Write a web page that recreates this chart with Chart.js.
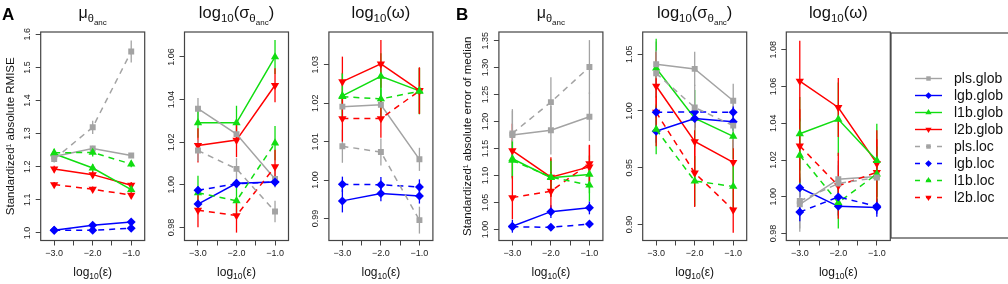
<!DOCTYPE html>
<html>
<head>
<meta charset="utf-8">
<script src="https://cdn.jsdelivr.net/npm/chart.js@4.4.1/dist/chart.umd.min.js"></script>
<style>
  html, body { margin: 0; padding: 0; background: #fff; }
  #wrap { position: relative; width: 1008px; height: 284px; overflow: hidden; }
  #wrap canvas { position: absolute; left: 0; top: 0; }
</style>
</head>
<body>
<div id="wrap"></div>
<script>
// x positions and tick labels (log10 epsilon)
const X_VALUES = [-3, -2, -1]
const X_TICKS = [-3, -2.5, -2, -1.5, -1]
const X_TICK_LABELS = ["\u22123.0", "", "\u22122.0", "", "\u22121.0"]

const SERIES = ["pls.glob", "lgb.glob", "l1b.glob", "l2b.glob", "pls.loc", "lgb.loc", "l1b.loc", "l2b.loc"]

// values per series (same order as SERIES), one row per series
// A: standardized absolute RMISE
const A_MU = [
  [1.231, 1.255, 1.234], [1.008, 1.023, 1.033], [1.239, 1.196, 1.131], [1.193, 1.176, 1.144],
  [1.223, 1.319, 1.548], [1.008, 1.008, 1.014], [1.242, 1.243, 1.208], [1.146, 1.132, 1.114],
]
const A_MU_ERR = [
  [0.008, 0.008, 0.007], [0.004, 0.004, 0.004], [0.012, 0.012, 0.01], [0.01, 0.01, 0.01],
  [0.01, 0.02, 0.033], [0.004, 0.004, 0.004], [0.012, 0.012, 0.01], [0.008, 0.008, 0.008],
]
const A_SIG = [
  [1.0357, 1.0238, 1.0028], [0.991, 1.0007, 1.0013], [1.0291, 1.0291, 1.06], [1.0185, 1.021, 1.0467],
  [1.0161, 1.0075, 0.9875], [0.9975, 1.0005, 1.0013], [0.9963, 0.9925, 1.0196], [0.9881, 0.9856, 1.0085],
]
const A_SIG_ERR = [
  [0.005, 0.004, 0.004], [0.002, 0.002, 0.002], [0.007, 0.008, 0.008], [0.008, 0.008, 0.008],
  [0.005, 0.005, 0.005], [0.002, 0.002, 0.002], [0.008, 0.008, 0.008], [0.008, 0.008, 0.008],
]
const A_OMG = [
  [1.0191, 1.0196, 1.0054], [0.9946, 0.9965, 0.9959], [1.0219, 1.027, 1.0232], [1.0256, 1.0302, 1.0233],
  [1.0088, 1.0073, 0.9896], [0.9989, 0.9988, 0.9982], [1.0217, 1.0211, 1.0231], [1.016, 1.016, 1.0232],
]
const A_OMG_ERR = [
  [0.004, 0.004, 0.003], [0.003, 0.002, 0.002], [0.006, 0.006, 0.006], [0.0065, 0.0062, 0.006],
  [0.0043, 0.0035, 0.0035], [0.002, 0.002, 0.002], [0.006, 0.006, 0.006], [0.006, 0.005, 0.006],
]

// B: standardized absolute error of median
const B_MU = [
  [1.175, 1.184, 1.209], [1.006, 1.033, 1.04], [1.131, 1.096, 1.102], [1.146, 1.097, 1.116],
  [1.178, 1.236, 1.301], [1.005, 1.004, 1.01], [1.128, 1.097, 1.082], [1.059, 1.071, 1.122],
]
const B_MU_ERR = [
  [0.045, 0.045, 0.045], [0.012, 0.012, 0.012], [0.035, 0.035, 0.035], [0.05, 0.037, 0.04],
  [0.045, 0.046, 0.05], [0.006, 0.006, 0.006], [0.035, 0.03, 0.03], [0.04, 0.035, 0.035],
]
const B_SIG = [
  [1.0411, 1.037, 1.0089], [0.982, 0.9932, 0.9905], [1.0376, 0.9935, 0.9775], [1.0219, 0.973, 0.9547],
  [1.0331, 1.003, 0.987], [0.9988, 0.999, 0.9988], [0.9837, 0.9382, 0.9334], [0.9988, 0.9453, 0.9127],
]
const B_SIG_ERR = [
  [0.02, 0.015, 0.015], [0.01, 0.008, 0.008], [0.026, 0.025, 0.02], [0.03, 0.03, 0.02],
  [0.02, 0.02, 0.02], [0.005, 0.005, 0.005], [0.022, 0.022, 0.022], [0.03, 0.03, 0.02],
]
const B_OMG = [
  [0.9959, 1.0096, 1.0111], [1.0049, 0.9948, 0.9941], [1.0343, 1.0422, 1.0197], [1.063, 1.0486, 1.0182],
  [0.9977, 1.0072, 1.0105], [0.9917, 0.9999, 0.9948], [1.0226, 0.9968, 1.0124], [1.0277, 1.006, 1.0133],
]
const B_OMG_ERR = [
  [0.015, 0.01, 0.01], [0.005, 0.005, 0.005], [0.02, 0.02, 0.02], [0.022, 0.016, 0.018],
  [0.015, 0.01, 0.01], [0.005, 0.005, 0.004], [0.02, 0.014, 0.015], [0.02, 0.018, 0.018],
]

// y tick labels per panel
const A_MU_TICKS = ["1.0", "1.1", "1.2", "1.3", "1.4", "1.5", "1.6"]
const A_SIG_TICKS = ["0.98", "1.00", "1.02", "1.04", "1.06"]
const A_OMG_TICKS = ["0.99", "1.00", "1.01", "1.02", "1.03"]
const B_MU_TICKS = ["1.00", "1.05", "1.10", "1.15", "1.20", "1.25", "1.30", "1.35"]
const B_SIG_TICKS = ["0.90", "0.95", "1.00", "1.05"]
const B_OMG_TICKS = ["0.98", "1.00", "1.02", "1.04", "1.06", "1.08"]

const FONT = "'Liberation Sans', Arial, Helvetica, sans-serif"
Chart.defaults.font.family = FONT

const COLORS = { pls: "#a3a3a3", lgb: "#0000ff", l1b: "#11dd11", l2b: "#ff0000" }
const MARKERS = {
  pls: { style: "rect", radius: 4.2, rotation: 0 },
  lgb: { style: "rectRot", radius: 4.5, rotation: 0 },
  l1b: { style: "triangle", radius: 4.8, rotation: 0 },
  l2b: { style: "triangle", radius: 4.8, rotation: 180 },
}

const W = 1008, H = 284
const TOP = 32, BOTTOM = 240.5, PW = 104
const Y_W = 20, X_H = 30

const panels = [
  { values: A_MU, errors: A_MU_ERR, ticks: A_MU_TICKS, left: 40.7, yMin: 0.977, yMax: 1.607,
    title: [["\u03bc", 16, 0], ["\u03b8", 11, 4], ["anc", 8, 7]], letter: "A",
    ytitle: "Standardized\u00b9 absolute RMISE", ytitleX: 11 },
  { values: A_SIG, errors: A_SIG_ERR, ticks: A_SIG_TICKS, left: 184.5, yMin: 0.9739, yMax: 1.0717,
    title: [["log", 16.5, 0], ["10", 11.5, 4], ["(\u03c3", 16.5, 0], ["\u03b8", 11.5, 4], ["anc", 8, 7], [")", 16.5, 0]] },
  { values: A_OMG, errors: A_OMG_ERR, ticks: A_OMG_TICKS, left: 328.9, yMin: 0.9843, yMax: 1.0385,
    title: [["log", 16.5, 0], ["10", 11.5, 4], ["(\u03c9)", 16.5, 0]] },
  { values: B_MU, errors: B_MU_ERR, ticks: B_MU_TICKS, left: 498.9, yMin: 0.9795, yMax: 1.366,
    title: [["\u03bc", 16, 0], ["\u03b8", 11, 4], ["anc", 8, 7]], letter: "B",
    ytitle: "Standardized\u00b9 absolute error of median", ytitleX: 468 },
  { values: B_SIG, errors: B_SIG_ERR, ticks: B_SIG_TICKS, left: 642.7, yMin: 0.8858, yMax: 1.0695,
    title: [["log", 16.5, 0], ["10", 11.5, 4], ["(\u03c3", 16.5, 0], ["\u03b8", 11.5, 4], ["anc", 8, 7], [")", 16.5, 0]] },
  { values: B_OMG, errors: B_OMG_ERR, ticks: B_OMG_TICKS, left: 786.3, yMin: 0.9762, yMax: 1.0897,
    title: [["log", 16.5, 0], ["10", 11.5, 4], ["(\u03c9)", 16.5, 0]], legend: true },
]

// draw a run of text pieces [text, size, drop] centred on x
function drawPieces(ctx, pieces, x, y, color) {
  ctx.save()
  ctx.fillStyle = color || "#111"
  ctx.textBaseline = "alphabetic"
  ctx.textAlign = "left"
  let total = 0
  pieces.forEach(([t, s]) => {
    ctx.font = s + "px " + FONT
    total += ctx.measureText(t).width
  })
  let cx = x - total / 2
  pieces.forEach(([t, s, dy]) => {
    ctx.font = s + "px " + FONT
    ctx.fillText(t, cx, y + dy)
    cx += ctx.measureText(t).width
  })
  ctx.restore()
}

const errorBars = {
  id: "errorBars",
  beforeDatasetsDraw(chart, args, opts) {
    const { ctx, scales: { x, y } } = chart
    ctx.save()
    ctx.lineWidth = 1.3
    chart.data.datasets.forEach((ds) => {
      ctx.strokeStyle = ds.borderColor
      ds.data.forEach((pt, i) => {
        const e = ds.errors[i]
        const px = x.getPixelForValue(pt.x)
        ctx.beginPath()
        ctx.moveTo(px, y.getPixelForValue(pt.y - e))
        ctx.lineTo(px, y.getPixelForValue(pt.y + e))
        ctx.stroke()
      })
    })
    ctx.restore()
  },
}

const decorations = {
  id: "decorations",
  afterDraw(chart, args, opts) {
    const p = opts.panel
    const { ctx, chartArea: a } = chart
    const yScale = chart.scales.y
    ctx.save()
    // frame
    ctx.strokeStyle = "#444"
    ctx.lineWidth = 1.2
    ctx.strokeRect(a.left, a.top, a.right - a.left, a.bottom - a.top)
    // y tick labels, rotated like R's las=0
    ctx.fillStyle = "#222"
    ctx.font = "9px " + FONT
    ctx.textAlign = "center"
    ctx.textBaseline = "middle"
    p.ticks.forEach((lab) => {
      const py = yScale.getPixelForValue(parseFloat(lab))
      ctx.save()
      ctx.translate(a.left - 13, py)
      ctx.rotate(-Math.PI / 2)
      ctx.fillText(lab, 0, 0)
      ctx.restore()
    })
    const cx = (a.left + a.right) / 2
    drawPieces(ctx, p.title, cx, 18)
    drawPieces(ctx, [["log", 12, 0], ["10", 8.5, 3], ["(\u03b5)", 12, 0]], cx, 276)
    if (p.ytitle) {
      ctx.save()
      ctx.translate(p.ytitleX, (a.top + a.bottom) / 2)
      ctx.rotate(-Math.PI / 2)
      ctx.fillStyle = "#111"
      ctx.font = "11.5px " + FONT
      ctx.textAlign = "center"
      ctx.textBaseline = "middle"
      ctx.fillText(p.ytitle, 0, 0)
      ctx.restore()
    }
    if (p.letter) {
      ctx.fillStyle = "#000"
      ctx.font = "bold 17px " + FONT
      ctx.textAlign = "left"
      ctx.textBaseline = "alphabetic"
      ctx.fillText(p.letter, p.letter === "A" ? 2 : 456, 19.5)
    }
    if (p.legend) {
      ctx.strokeStyle = "#444"
      ctx.lineWidth = 1.2
      ctx.strokeRect(891, 33, 200, 205)
      SERIES.forEach((name, i) => {
        const fam = name.split(".")[0]
        const loc = name.endsWith("loc")
        const ly = 78.5 + i * 17
        ctx.strokeStyle = COLORS[fam]
        ctx.fillStyle = COLORS[fam]
        ctx.lineWidth = 1.4
        ctx.setLineDash(loc ? [5, 6] : [])
        ctx.beginPath()
        ctx.moveTo(915, ly)
        ctx.lineTo(942, ly)
        ctx.stroke()
        ctx.setLineDash([])
        const m = MARKERS[fam]
        Chart.helpers.drawPoint(ctx, { pointStyle: m.style, radius: m.radius * 0.75, rotation: m.rotation, borderWidth: 0 }, 928.5, ly)
        ctx.fillStyle = "#111"
        ctx.font = "14px " + FONT
        ctx.textAlign = "left"
        ctx.textBaseline = "middle"
        ctx.fillText(name, 954, ly + 1)
      })
    }
    ctx.restore()
  },
}

const wrap = document.getElementById("wrap")

panels.forEach((p) => {
  const canvas = document.createElement("canvas")
  canvas.width = W
  canvas.height = H
  wrap.appendChild(canvas)

  const datasets = SERIES.map((name, i) => {
    const fam = name.split(".")[0]
    const loc = name.endsWith("loc")
    const m = MARKERS[fam]
    return {
      label: name,
      data: X_VALUES.map((x, j) => ({ x, y: p.values[i][j] })),
      errors: p.errors[i],
      borderColor: COLORS[fam],
      backgroundColor: COLORS[fam],
      borderWidth: 1.5,
      borderDash: loc ? [6, 5] : [],
      pointStyle: m.style,
      pointRadius: m.radius,
      pointRotation: m.rotation,
      pointBorderWidth: 0,
      tension: 0,
      order: loc ? 0 : 1,
    }
  })

  new Chart(canvas, {
    type: "line",
    data: { datasets },
    plugins: [errorBars, decorations],
    options: {
      responsive: false,
      animation: false,
      events: [],
      layout: {
        padding: { left: p.left - Y_W, right: W - p.left - PW, top: TOP, bottom: H - BOTTOM - X_H },
      },
      plugins: {
        legend: { display: false },
        tooltip: { enabled: false },
        title: { display: false },
        decorations: { panel: p },
      },
      scales: {
        x: {
          type: "linear",
          min: -3.35,
          max: -0.65,
          afterBuildTicks: (s) => { s.ticks = X_TICKS.map((v) => ({ value: v })) },
          afterFit: (s) => { s.height = X_H },
          ticks: {
            autoSkip: false,
            maxRotation: 0,
            padding: 3,
            color: "#222",
            font: { size: 9 },
            callback: (v) => X_TICK_LABELS[X_TICKS.indexOf(v)],
          },
          grid: { drawOnChartArea: false, drawTicks: true, tickLength: 5, color: "#444", lineWidth: 1 },
          border: { display: false },
        },
        y: {
          type: "linear",
          min: p.yMin,
          max: p.yMax,
          afterBuildTicks: (s) => { s.ticks = p.ticks.map((t) => ({ value: parseFloat(t) })) },
          afterFit: (s) => { s.width = Y_W },
          ticks: { display: false },
          grid: { drawOnChartArea: false, drawTicks: true, tickLength: 5, color: "#444", lineWidth: 1 },
          border: { display: false },
        },
      },
    },
  })
})
</script>
</body>
</html>
